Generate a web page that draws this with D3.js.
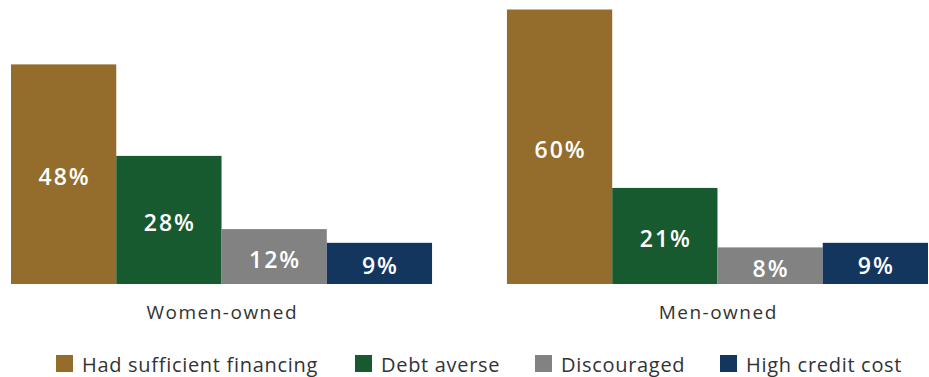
<!DOCTYPE html>
<html>
<head>
<meta charset="utf-8">
<script src="https://cdn.jsdelivr.net/npm/d3@7"></script>
<style>
  html, body { margin: 0; padding: 0; background: #ffffff; }
  svg { display: block; }
</style>
</head>
<body>
<svg id="chart" width="929" height="377"></svg>
<script>
const groups = ["Women-owned", "Men-owned"];
const seriesNames = ["Had sufficient financing", "Debt averse", "Discouraged", "High credit cost"];
const hadSufficient = [48, 60];
const debtAverse = [28, 21];
const discouraged = [12, 8];
const highCreditCost = [9, 9];
const seriesColors = ["#946d2c", "#185a2f", "#818281", "#13365f"];

const seriesValues = [hadSufficient, debtAverse, discouraged, highCreditCost];
const font = "'Open Sans', sans-serif";

const svg = d3.select("#chart");
const baseline = 284;

const x0 = d3.scaleBand().domain(groups).range([11, 928]).paddingInner(0.151).paddingOuter(0);
const x1 = d3.scaleBand().domain(seriesNames).range([0, x0.bandwidth()]).padding(0);
const y = d3.scaleLinear().domain([0, 60]).range([baseline, 9.5]);
const color = d3.scaleOrdinal().domain(seriesNames).range(seriesColors);

const data = [];
groups.forEach((g, gi) => {
  seriesNames.forEach((s, si) => {
    data.push({ group: g, series: s, value: seriesValues[si][gi] });
  });
});

const bars = svg.append("g");
bars.selectAll("rect").data(data).join("rect")
  .attr("x", d => x0(d.group) + x1(d.series))
  .attr("y", d => y(d.value))
  .attr("width", x1.bandwidth())
  .attr("height", d => baseline - y(d.value))
  .attr("fill", d => color(d.series));

bars.selectAll("text").data(data).join("text")
  .attr("x", d => x0(d.group) + x1(d.series) + x1.bandwidth() / 2 + 1)
  .attr("y", d => (y(d.value) + baseline) / 2 + 2)
  .attr("text-anchor", "middle")
  .attr("dominant-baseline", "central")
  .attr("fill", "#ffffff")
  .style("font-family", font)
  .style("font-size", "23px")
  .style("font-weight", 600)
  .style("letter-spacing", "2px")
  .text(d => d.value + "%");

// category axis labels
svg.append("g").selectAll("text").data(groups).join("text")
  .attr("x", d => x0(d) + x0.bandwidth() / 2 + 0.75)
  .attr("y", 312)
  .attr("text-anchor", "middle")
  .attr("dominant-baseline", "central")
  .attr("fill", "#333333")
  .style("font-family", font)
  .style("font-size", "19px")
  .style("letter-spacing", "1.5px")
  .text(d => d);

// legend
const legendX = [56, 355, 535, 720];
const legend = svg.append("g").selectAll("g").data(seriesNames).join("g")
  .attr("transform", (d, i) => `translate(${legendX[i]},355)`);
legend.append("rect")
  .attr("width", 17).attr("height", 17)
  .attr("fill", d => color(d));
legend.append("text")
  .attr("x", 26).attr("y", 9)
  .attr("dominant-baseline", "central")
  .attr("fill", "#333333")
  .style("font-family", font)
  .style("font-size", "20px")
  .style("letter-spacing", "0.7px")
  .text(d => d);
</script>
</body>
</html>
